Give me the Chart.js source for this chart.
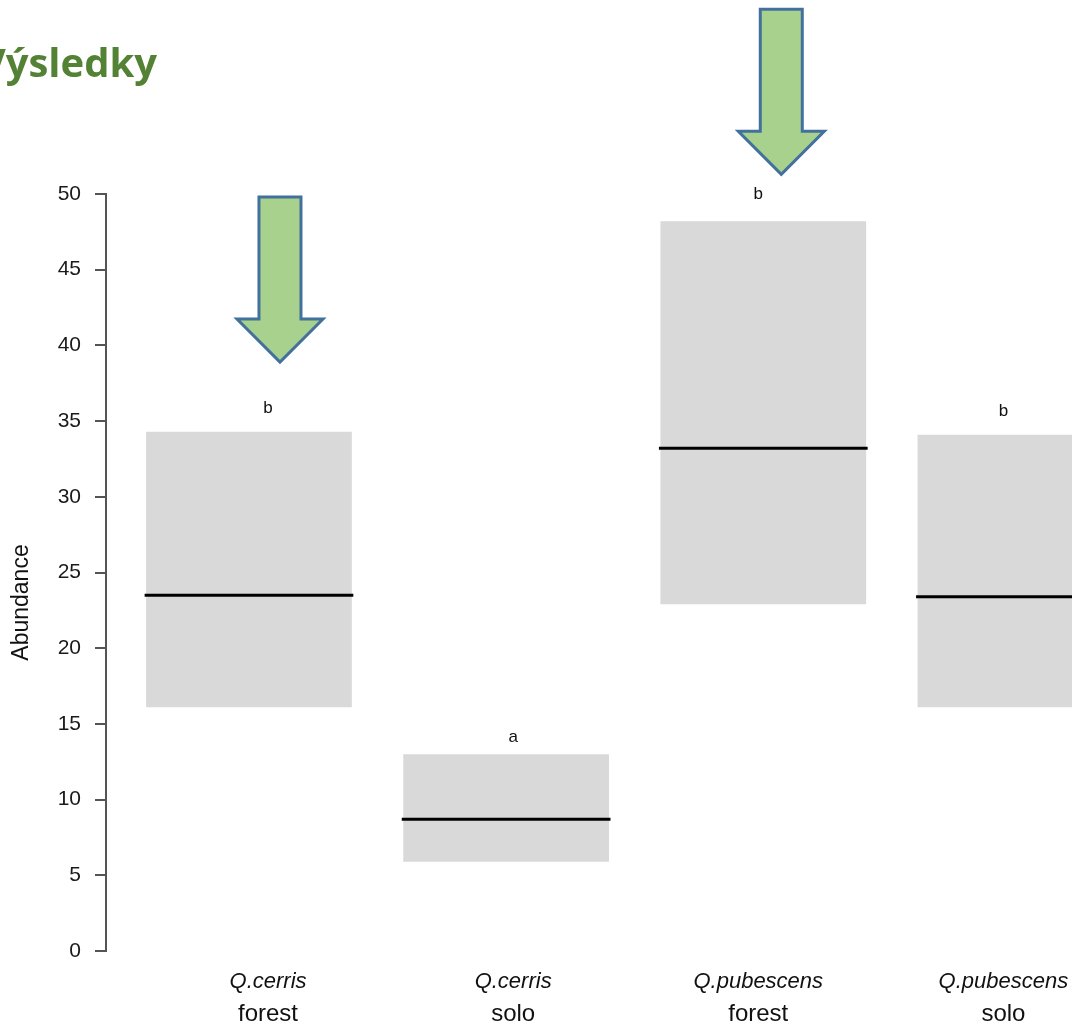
<!DOCTYPE html>
<html>
<head>
<meta charset="utf-8">
<title>Výsledky</title>
<script src="https://cdn.jsdelivr.net/npm/chart.js@4.4.1/dist/chart.umd.min.js"></script>
<style>
  html, body { margin: 0; padding: 0; background: #ffffff; overflow: hidden; }
  #wrap { position: relative; width: 1072px; height: 1025px; overflow: hidden; }
  #chart { position: absolute; left: 0; top: 0; }
  #heading {
    position: absolute; right: 915px; top: 34px;
    font: bold 40px "Open Sans", "Noto Sans", sans-serif;
    color: #548235; white-space: nowrap;
  }
</style>
</head>
<body>
<div id="wrap">
  <canvas id="chart" width="1149" height="1025"></canvas>
  <div id="heading">Výsledky</div>
</div>
<script>
// Abundance per species and site: interquartile box and median
const species = ['Q.cerris', 'Q.cerris', 'Q.pubescens', 'Q.pubescens'];
const sites = ['forest', 'solo', 'forest', 'solo'];
const lower = [16.1, 5.9, 22.9, 16.1];
const upper = [34.3, 13.0, 48.2, 34.1];
const medians = [23.5, 8.7, 33.2, 23.4];
const groupLetters = ['b', 'a', 'b', 'b'];
const yTickStep = 5;
const yTitle = 'Abundance';

const FONT = '"Liberation Sans", Arial, sans-serif';

// Median line across each box, spanning the drawn bar width
const medianLines = {
  id: 'medianLines',
  afterDatasetsDraw(chart) {
    const ctx = chart.ctx;
    const y = chart.scales.y;
    const bars = chart.getDatasetMeta(0).data;
    ctx.save();
    ctx.strokeStyle = '#000000';
    ctx.lineWidth = 3;
    ctx.lineCap = 'butt';
    bars.forEach((bar, i) => {
      const { x, width } = bar.getProps(['x', 'width'], true);
      const py = y.getPixelForValue(medians[i]);
      ctx.beginPath();
      ctx.moveTo(x - width / 2 - 1.5, py);
      ctx.lineTo(x + width / 2 + 1.5, py);
      ctx.stroke();
    });
    ctx.restore();
  }
};

// Axis title, group letters, two-line category labels and highlight arrows
const annotate = {
  id: 'annotate',
  afterDraw(chart, args, opts) {
    const ctx = chart.ctx;
    const y = chart.scales.y;
    const lab = chart.scales.lab;
    const ly = chart.scales.ly;
    const bx = chart.scales.x;
    ctx.save();

    // y axis title, rotated, sitting slightly below the axis midpoint
    ctx.save();
    ctx.translate(22, (y.top + y.bottom) / 2 + 30);
    ctx.rotate(-Math.PI / 2);
    ctx.fillStyle = '#111111';
    ctx.font = '23px ' + FONT;
    ctx.textAlign = 'center';
    ctx.textBaseline = 'middle';
    ctx.fillText(yTitle, 0, 0);
    ctx.restore();

    ctx.fillStyle = '#111111';
    ctx.textAlign = 'center';
    ctx.textBaseline = 'alphabetic';
    ctx.font = '17px ' + FONT;
    groupLetters.forEach((t, i) => {
      ctx.fillText(t, lab.getPixelForValue(i), ly.getPixelForValue(upper[i]) + 6);
    });

    ctx.textBaseline = 'middle';
    species.forEach((s, i) => {
      const cx = lab.getPixelForValue(i);
      ctx.font = 'italic 22px ' + FONT;
      ctx.fillText(s, cx, y.bottom + 31);
      ctx.font = '24px ' + FONT;
      ctx.fillText(sites[i], cx, y.bottom + 63);
    });

    // Down arrows pointing at the highlighted groups
    opts.arrows.forEach(a => {
      const cx = bx.getPixelForValue(a.group) + a.dx;
      const tip = y.getPixelForValue(a.tip);
      const H = 165, head = 43, sw = 21, hw = 43;
      ctx.beginPath();
      ctx.moveTo(cx - sw, tip - H);
      ctx.lineTo(cx + sw, tip - H);
      ctx.lineTo(cx + sw, tip - head);
      ctx.lineTo(cx + hw, tip - head);
      ctx.lineTo(cx, tip);
      ctx.lineTo(cx - hw, tip - head);
      ctx.lineTo(cx - sw, tip - head);
      ctx.closePath();
      ctx.fillStyle = '#A9D18E';
      ctx.fill();
      ctx.lineWidth = 3;
      ctx.lineJoin = 'miter';
      ctx.strokeStyle = '#41719C';
      ctx.stroke();
    });
    ctx.restore();
  }
};

new Chart(document.getElementById('chart'), {
  type: 'bar',
  data: {
    datasets: [
      {
        label: yTitle,
        data: lower.map((lo, i) => ({ x: i, y: [lo, upper[i]] })),
        backgroundColor: '#D9D9D9',
        borderWidth: 0,
        borderSkipped: false,
        categoryPercentage: 1,
        barPercentage: 0.8,
        xAxisID: 'x',
        yAxisID: 'y'
      }
    ]
  },
  options: {
    responsive: false,
    animation: false,
    events: [],
    layout: { padding: { top: 194, bottom: 74, left: 0, right: 0 } },
    plugins: {
      legend: { display: false },
      tooltip: { enabled: false },
      annotate: {
        arrows: [
          { group: 0, dx: 31, tip: 38.9 },
          { group: 2, dx: 18, tip: 51.3 }
        ]
      }
    },
    scales: {
      x: {
        type: 'linear', offset: false, min: -0.556, max: 3.5, display: false,
        ticks: { stepSize: 1, includeBounds: false }
      },
      lab: {
        type: 'linear', axis: 'x', position: 'bottom', offset: false,
        min: -0.661, max: 3.594, display: false,
        ticks: { stepSize: 1, includeBounds: false }
      },
      ly: { type: 'linear', axis: 'y', position: 'left', min: -0.98, max: 48.14, display: false },
      y: {
        type: 'linear',
        position: 'left',
        min: 0,
        max: 50,
        afterFit(scale) { scale.width = 106; },
        ticks: {
          stepSize: yTickStep,
          padding: 14,
          color: '#1a1a1a',
          font: { family: FONT, size: 21 }
        },
        grid: {
          display: true,
          drawOnChartArea: false,
          drawTicks: true,
          tickLength: 11,
          color: '#555555',
          lineWidth: 2
        },
        border: { display: true, color: '#555555', width: 2 },
        title: { display: false }
      }
    }
  },
  plugins: [medianLines, annotate]
});
</script>
</body>
</html>
